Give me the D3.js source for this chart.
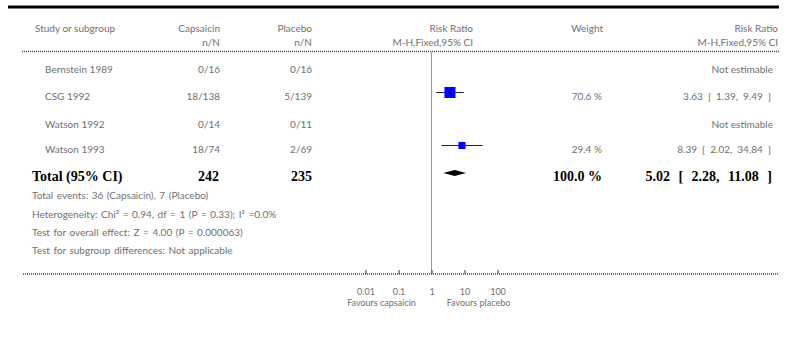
<!DOCTYPE html>
<html><head><meta charset="utf-8">
<script src="https://cdn.jsdelivr.net/npm/d3@7"></script>
<style>
html,body{margin:0;padding:0;background:#fff;}
svg{display:block;}
text{font-family:Lato,"Open Sans",sans-serif;fill:#707070;font-size:10px;}
.bold{font-family:"Liberation Serif","Times New Roman",serif;font-weight:bold;fill:#000;font-size:14px;}
.ws{word-spacing:2.5px;}
.fs{word-spacing:1px;}
</style></head><body>
<svg id="c" width="788" height="346"></svg>
<script>
const studies = ["Bernstein 1989","CSG 1992","Watson 1992","Watson 1993"];
const capsaicin = ["0/16","18/138","0/14","18/74"];
const placebo = ["0/16","5/139","0/11","2/69"];
const rr = [null,3.63,null,8.39];
const lo = [null,1.39,null,2.02];
const hi = [null,9.49,null,34.84];
const weight = [null,70.6,null,29.4];
const totalLabel = "Total (95% CI)";
const totalN = ["242","235"];
const totalRR = [5.02,2.28,11.08];
const totalWeight = 100.0;
const footer = ["Total events: 36 (Capsaicin), 7 (Placebo)",
  "Heterogeneity: Chi² = 0.94, df = 1 (P = 0.33); I² =0.0%",
  "Test for overall effect: Z = 4.00 (P = 0.000063)",
  "Test for subgroup differences: Not applicable"];
const tickVals = [0.01,0.1,1,10,100];
const favours = ["Favours capsaicin","Favours placebo"];

const svg = d3.select("#c");
const x = d3.scaleLog().domain([0.01,100]).range([365.5,497.5]);
const f2 = d3.format(".2f");

svg.append("line").attr("x1",8).attr("x2",779).attr("y1",7).attr("y2",7).attr("stroke","#000").attr("stroke-width",3);
const h1=32,h2=46;
svg.append("text").attr("x",35).attr("y",h1).text("Study or subgroup");
svg.append("text").attr("x",220).attr("y",h1).attr("text-anchor","end").text("Capsaicin");
svg.append("text").attr("x",220).attr("y",h2).attr("text-anchor","end").text("n/N");
svg.append("text").attr("x",312).attr("y",h1).attr("text-anchor","end").text("Placebo");
svg.append("text").attr("x",312).attr("y",h2).attr("text-anchor","end").text("n/N");
svg.append("text").attr("x",473).attr("y",h1).attr("text-anchor","end").text("Risk Ratio");
svg.append("text").attr("x",473).attr("y",h2).attr("text-anchor","end").text("M-H,Fixed,95% CI");
svg.append("text").attr("x",603).attr("y",h1).attr("text-anchor","end").text("Weight");
svg.append("text").attr("x",778).attr("y",h1).attr("text-anchor","end").text("Risk Ratio");
svg.append("text").attr("x",778).attr("y",h2).attr("text-anchor","end").text("M-H,Fixed,95% CI");
svg.append("line").attr("x1",22).attr("x2",780).attr("y1",51.5).attr("y2",51.5).attr("stroke","#444").attr("stroke-width",1.6).attr("stroke-dasharray","1,1");

svg.append("line").attr("x1",x(1)).attr("x2",x(1)).attr("y1",52).attr("y2",274).attr("stroke","#999").attr("stroke-width",1);

const rowBase = [72.5,100,128,153];
const k = 11/Math.sqrt(70.6);
studies.forEach((s,i)=>{
  const b=rowBase[i];
  svg.append("text").attr("x",45).attr("y",b).text(s);
  svg.append("text").attr("x",220).attr("y",b).attr("text-anchor","end").text(capsaicin[i]);
  svg.append("text").attr("x",312).attr("y",b).attr("text-anchor","end").text(placebo[i]);
  if(rr[i]==null){
    svg.append("text").attr("x",773).attr("y",b).attr("text-anchor","end").text("Not estimable");
  } else {
    const cy=b-7.5;
    svg.append("line").attr("x1",x(lo[i])).attr("x2",x(hi[i])).attr("y1",cy).attr("y2",cy).attr("stroke","#222").attr("stroke-width",1);
    const sz=k*Math.sqrt(weight[i]);
    svg.append("rect").attr("x",x(rr[i])-sz/2).attr("y",cy-sz/2).attr("width",sz).attr("height",sz).attr("fill","#0000ff");
    svg.append("line").attr("x1",x(rr[i])-1).attr("x2",x(rr[i])+1).attr("y1",cy).attr("y2",cy).attr("stroke","#000").attr("stroke-width",1);
    svg.append("text").attr("x",602).attr("y",b).attr("text-anchor","end").text(weight[i].toFixed(1)+" %");
    svg.append("text").attr("class","ws").attr("x",771).attr("y",b).attr("text-anchor","end").text(`${f2(rr[i])} [ ${f2(lo[i])}, ${f2(hi[i])} ]`);
  }
});
const tb=181, tcy=173;
svg.append("text").attr("class","bold").attr("x",32).attr("y",tb).text(totalLabel);
svg.append("text").attr("class","bold").attr("x",219).attr("y",tb).attr("text-anchor","end").text(totalN[0]);
svg.append("text").attr("class","bold").attr("x",312).attr("y",tb).attr("text-anchor","end").text(totalN[1]);
svg.append("text").attr("class","bold").attr("x",602).attr("y",tb).attr("text-anchor","end").text(totalWeight.toFixed(1)+" %");
svg.append("text").attr("class","bold").attr("x",772).attr("y",tb).attr("text-anchor","end").style("word-spacing","5px").text(`${f2(totalRR[0])} [ ${f2(totalRR[1])}, ${f2(totalRR[2])} ]`);
svg.append("path").attr("d",`M${x(totalRR[1])},${tcy} L${x(totalRR[0])},${tcy-3} L${x(totalRR[2])},${tcy} L${x(totalRR[0])},${tcy+3} Z`).attr("fill","#000");

const fb=[199,217.5,235.5,254];
footer.forEach((t,i)=>svg.append("text").attr("class","fs").attr("x",32).attr("y",fb[i]).text(t));

svg.append("line").attr("x1",23).attr("x2",778).attr("y1",274).attr("y2",274).attr("stroke","#444").attr("stroke-width",1.6).attr("stroke-dasharray","1,1");
const ax = svg.append("g").attr("transform","translate(0,274)")
  .call(d3.axisBottom(x).tickValues(tickVals).tickSize(-4).tickPadding(14.5).tickFormat(d=>String(d)));
ax.select(".domain").remove();
ax.selectAll(".tick line").attr("stroke","#333");
ax.selectAll("text").attr("fill","#707070").style("font-size","9px").style("font-family","Lato,sans-serif");
svg.append("text").attr("x",x(0.1)-17).attr("y",305.5).attr("text-anchor","middle").style("font-size","9px").text(favours[0]);
svg.append("text").attr("x",x(10)+14).attr("y",305.5).attr("text-anchor","middle").style("font-size","9px").text(favours[1]);
</script></body></html>
